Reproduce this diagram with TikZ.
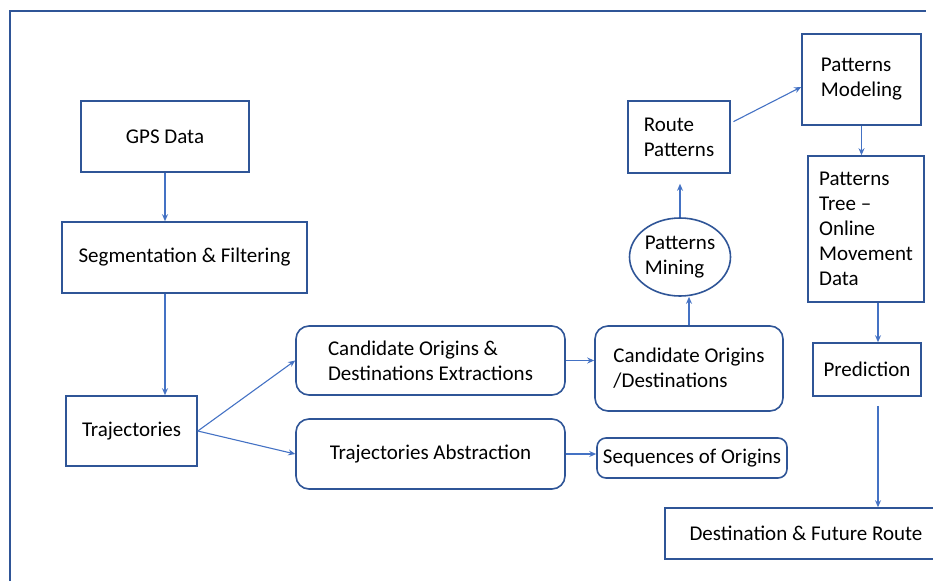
\documentclass[tikz,border=0pt]{standalone}
\usepackage{fontspec}
\setmainfont{Carlito}
\usetikzlibrary{positioning,arrows.meta,shapes.geometric}
\definecolor{boxblue}{HTML}{2F5597}
\definecolor{arrowblue}{HTML}{4472C4}

\begin{document}
\begin{tikzpicture}[x=1pt, y=-1pt, ->, >={Stealth[length=7pt,width=6pt]}, draw=arrowblue, line width=1.1pt,
  block_node/.style={rectangle, draw=boxblue, line width=1.6pt, text=black, font=\fontsize{21}{25}\selectfont, align=left, inner sep=0pt},
  round_node/.style={block_node, rounded corners=13pt},
  oval_node/.style={block_node, ellipse}]

  \useasboundingbox (0,0) rectangle (933,581);
  % frame
  \draw[-, boxblue, line width=1.5pt] (10,581) -- (10,11) -- (926,11);

  \node[block_node, minimum width=168pt, minimum height=71pt] (gps) at (165,136.5) {GPS Data};
  \node[block_node, minimum width=245pt, minimum height=71pt] (seg) [below of=gps, node distance=121pt, xshift=19.5pt] {Segmentation \& Filtering};
  \node[block_node, minimum width=131pt, minimum height=70pt] (traj) [below of=seg, node distance=173.5pt, xshift=-53pt] {Trajectories};
  \node[round_node, minimum width=269pt, minimum height=69pt] (code) [right of=traj, node distance=299pt, yshift=70.5pt] {Candidate Origins \&\\Destinations Extractions};
  \node[round_node, minimum width=269pt, minimum height=70pt] (ta) [below of=code, node distance=93.5pt] {Trajectories Abstraction};
  \node[round_node, minimum width=188pt, minimum height=85pt] (cod) [right of=code, node distance=258.5pt, yshift=-8pt] {Candidate Origins\\/Destinations};
  \node[round_node, rounded corners=9pt, minimum width=190pt, minimum height=40pt] (seq) [right of=ta, node distance=261.5pt, yshift=-4pt] {Sequences of Origins};
  \node[oval_node, minimum width=101pt, minimum height=78pt] (mining) [above of=cod, node distance=111.5pt, xshift=-9pt] {Patterns\\Mining};
  \node[block_node, minimum width=102pt, minimum height=72pt] (route) [above of=mining, node distance=120pt, xshift=-1pt] {Route\\Patterns};
  \node[block_node, minimum width=119pt, minimum height=91pt] (model) [right of=route, node distance=182.5pt, yshift=57.5pt] {Patterns\\Modeling};
  \node[block_node, minimum width=116pt, minimum height=146pt] (tree) [below of=model, node distance=149.5pt, xshift=4.5pt] {Patterns\\Tree --\\Online\\Movement\\Data};
  \node[block_node, minimum width=108pt, minimum height=53pt] (pred) [below of=tree, node distance=140.5pt, xshift=1pt] {Prediction};
  \node[block_node, minimum width=282pt, minimum height=51pt] (dest) [below of=pred, node distance=164pt, xshift=-61pt] {Destination \& Future Route};

  \path
    (gps.south) edge (gps.south |- seg.north)
    (gps.south |- seg.south) edge (gps.south |- traj.north)
    (traj.east) edge (code.west)
                edge (ta.west)
    (code.east) edge (code.east -| cod.west)
    (ta.east) edge (ta.east -| seq.west)
    (cod.north) edge (cod.north |- mining.south)
    (mining.north) edge[shorten >=10pt] (mining.north |- route.south)
    ([yshift=14pt]route.east) edge[shorten <=3pt] ([yshift=-7.5pt]model.west)
    (model.south) edge (model.south |- tree.north)
    ([xshift=12pt]tree.south) edge ([xshift=12pt]tree.south |- pred.north)
    ([xshift=11pt]pred.south) edge[shorten <=9pt] ([xshift=11pt]pred.south |- dest.north);
\end{tikzpicture}
\end{document}
